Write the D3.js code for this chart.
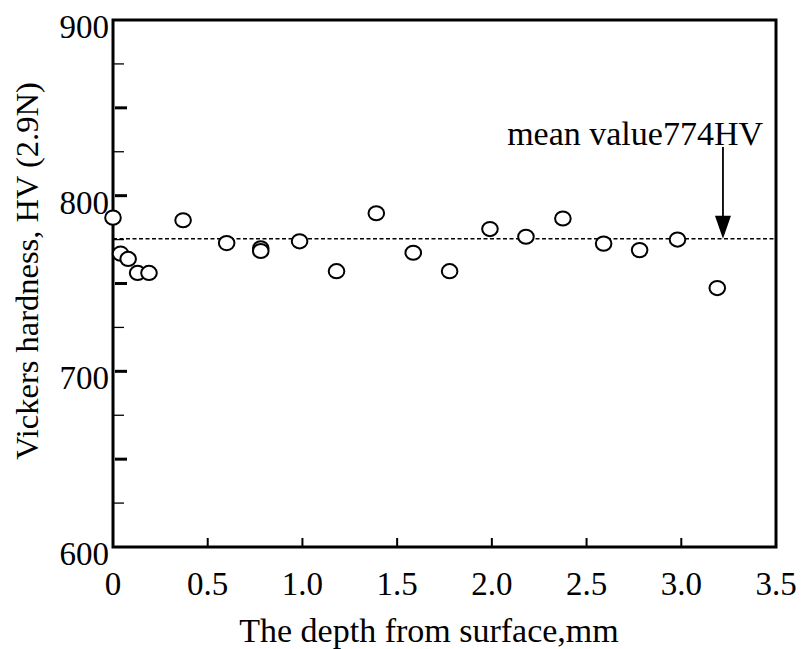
<!DOCTYPE html>
<html>
<head>
<meta charset="utf-8">
<script src="https://cdn.jsdelivr.net/npm/d3@7"></script>
<style>
  body { margin: 0; background: #fff; }
  svg text { font-family: "Liberation Serif", "Times New Roman", serif; fill: #000; }
</style>
</head>
<body>
<div id="chart"></div>
<script>
// depth (mm) and hardness (HV)
const depth = [0, 0.04, 0.08, 0.13, 0.19, 0.37, 0.6, 0.78, 0.78, 0.985, 1.18, 1.39, 1.585, 1.777, 1.99, 2.18, 2.375, 2.59, 2.78, 2.98, 3.19];
const hardness = [787.5, 767, 764, 756, 756, 786, 773, 770, 768.5, 774, 757, 790, 767.5, 757, 781, 776.6, 787, 772.7, 769, 775, 747.4];
const xTicks = [0, 0.5, 1.0, 1.5, 2.0, 2.5, 3.0, 3.5];
const xTickLabels = ["0", "0.5", "1.0", "1.5", "2.0", "2.5", "3.0", "3.5"];
const yTicks = [600, 700, 800, 900];
const meanLine = 775.5;
const meanLabel = "mean value774HV";
const arrowDepth = 3.22;

const width = 801, height = 649;
const plotLeft = 113, plotRight = 776, plotTop = 20, plotBottom = 547;

const svg = d3.select("#chart")
  .append("svg")
    .attr("width", width)
    .attr("height", height);

const x = d3.scaleLinear().domain([0, 3.5]).range([plotLeft, plotRight]);
const y = d3.scaleLinear().domain([600, 900]).range([plotBottom, plotTop]);

// frame
svg.append("rect")
  .attr("x", plotLeft).attr("y", plotTop)
  .attr("width", plotRight - plotLeft).attr("height", plotBottom - plotTop)
  .attr("fill", "none")
  .attr("stroke", "#000")
  .attr("stroke-width", 3);

// y minor/major inward ticks (every 25, thick on 50s)
const yMinor = d3.range(625, 900, 25);
svg.selectAll(".ytick")
  .data(yMinor)
  .join("line")
    .attr("x1", d => d % 50 === 0 ? plotLeft + 2 : plotLeft)
    .attr("x2", d => d % 50 === 0 ? plotLeft + 14 : plotLeft + 11)
    .attr("y1", d => y(d))
    .attr("y2", d => y(d))
    .attr("stroke", "#000")
    .attr("stroke-width", d => d % 50 === 0 ? 3 : 1.3);

// y labels
svg.selectAll(".ylab")
  .data(yTicks)
  .join("text")
    .attr("x", plotLeft - 4)
    .attr("y", d => y(d) + 18)
    .attr("text-anchor", "end")
    .style("font-size", "33px")
    .text(d => d);

// x ticks (inward)
svg.selectAll(".xtick")
  .data(xTicks.slice(1, -1))
  .join("line")
    .attr("x1", d => x(d)).attr("x2", d => x(d))
    .attr("y1", plotBottom).attr("y2", plotBottom - 9)
    .attr("stroke", "#000")
    .attr("stroke-width", 2);

svg.selectAll(".xlab")
  .data(xTicks)
  .join("text")
    .attr("x", d => x(d))
    .attr("y", plotBottom + 48)
    .attr("text-anchor", "middle")
    .style("font-size", "33px")
    .text((d, i) => xTickLabels[i]);

// axis titles
svg.append("text")
  .attr("x", 429)
  .attr("y", 642)
  .attr("text-anchor", "middle")
  .style("font-size", "34px")
  .text("The depth from surface,mm");

svg.append("text")
  .attr("transform", `translate(38, 271) rotate(-90)`)
  .attr("text-anchor", "middle")
  .style("font-size", "32.5px")
  .text("Vickers hardness, HV (2.9N)");

// mean dashed line
svg.append("line")
  .attr("x1", plotLeft).attr("x2", plotRight)
  .attr("y1", y(meanLine)).attr("y2", y(meanLine))
  .attr("stroke", "#000")
  .attr("stroke-width", 1.4)
  .attr("stroke-dasharray", "4,2.5");

// arrow + annotation
const ax = x(arrowDepth), ay = y(meanLine);
svg.append("line")
  .attr("x1", ax).attr("x2", ax)
  .attr("y1", 147).attr("y2", ay - 20)
  .attr("stroke", "#000")
  .attr("stroke-width", 1.8);

svg.append("path")
  .attr("d", `M${ax - 8},${ay - 23} L${ax + 8},${ay - 23} L${ax},${ay} Z`)
  .attr("fill", "#000");

svg.append("text")
  .attr("x", 763)
  .attr("y", 145)
  .attr("text-anchor", "end")
  .style("font-size", "34px")
  .text(meanLabel);

// data points
svg.selectAll(".pt")
  .data(depth.map((d, i) => [d, hardness[i]]))
  .join("ellipse")
    .attr("cx", d => x(d[0]))
    .attr("cy", d => y(d[1]))
    .attr("rx", 7.8)
    .attr("ry", 7.1)
    .attr("fill", "#fff")
    .attr("stroke", "#000")
    .attr("stroke-width", 2);
</script>
</body>
</html>
